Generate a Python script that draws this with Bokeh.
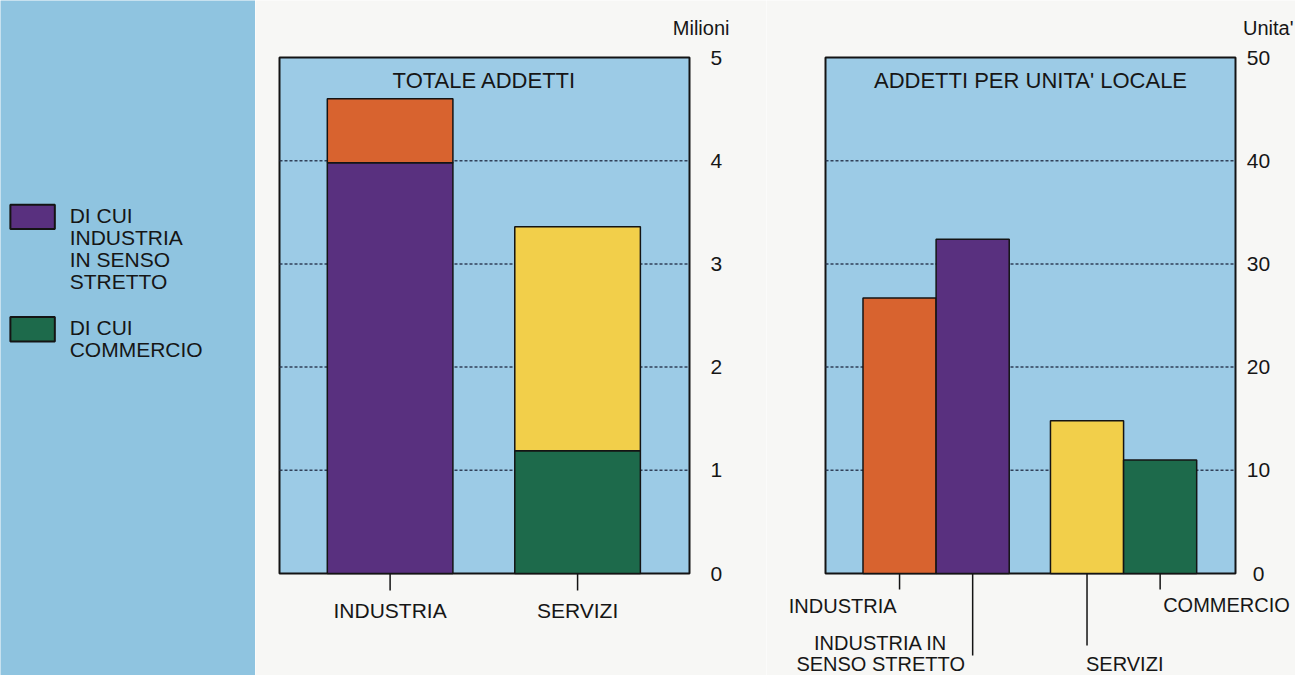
from bokeh.plotting import figure
from bokeh.models import Range1d, BoxAnnotation, ColumnDataSource
from bokeh.layouts import row
from bokeh.embed import file_html
from bokeh.resources import INLINE
from bokeh.core.properties import value

# ---------------- data ----------------
left_categories = ["INDUSTRIA", "SERVIZI"]
left_totals = [4.6, 3.36]          # totale addetti (milioni)
left_di_cui = [3.98, 1.19]         # di cui industria in senso stretto / di cui commercio
left_ticks = [0, 1, 2, 3, 4, 5]
left_unit = "Milioni"
left_title = "TOTALE ADDETTI"

right_labels = ["INDUSTRIA", "INDUSTRIA IN\nSENSO STRETTO", "SERVIZI", "COMMERCIO"]
right_group_index = [0, 0, 1, 1]
right_side = [-1, 1, -1, 1]
right_values = [26.7, 32.4, 14.8, 11.0]   # addetti per unita' locale
right_ticks = [0, 10, 20, 30, 40, 50]
right_unit = "Unita'"
right_title = "ADDETTI PER UNITA' LOCALE"

legend_labels = ["DI CUI\nINDUSTRIA\nIN SENSO\nSTRETTO", "DI CUI\nCOMMERCIO"]

# ---------------- style ----------------
FONT = "Liberation Sans"
ORANGE = "#d8632f"
PURPLE = "#59307f"
YELLOW = "#f2cf4a"
GREEN = "#1d6a4b"
PANEL = "#9ccbe6"
SIDE = "#8fc4e0"
PAPER = "#f7f7f5"
EDGE = "#141414"
TXT = "#161616"
GRID = "#26324a"

W, H = 1295, 675
SX, SY = W / 1311, H / 691          # reference pixel -> page pixel

X0, X1 = -0.59, 1.597               # category-index extent of each panel
PANEL_TOP = round(58 * SY)
PANEL_BOT = round(587 * SY)
PANEL_H = PANEL_BOT - PANEL_TOP
PANEL_W = 410
PX = PANEL_W / (X1 - X0)            # pixels per category unit


def chart(width, panel_left, ymax):
    """Figure whose frame is the whole canvas; panel drawn as a box in data space."""
    py = PANEL_H / ymax
    right_pad = width - panel_left - PANEL_W
    p = figure(width=width, height=H,
               x_range=Range1d(X0 - panel_left / PX, X1 + right_pad / PX),
               y_range=Range1d(-(H - PANEL_BOT) / py, ymax + PANEL_TOP / py),
               x_axis_location=None, y_axis_location=None, toolbar_location=None,
               output_backend="svg", title=None, min_border=0,
               min_border_left=0, min_border_right=0, min_border_top=0, min_border_bottom=0)
    p.background_fill_color = PAPER
    p.border_fill_color = PAPER
    p.outline_line_color = None
    p.grid.visible = False
    p.add_layout(BoxAnnotation(left=X0, right=X1, bottom=0, top=ymax, level="underlay",
                               fill_color=PANEL, fill_alpha=1.0,
                               line_color=EDGE, line_width=2, line_alpha=1.0))
    return p, py


def grid_and_ticks(p, ticks, dx, align):
    inner = ticks[1:-1]
    p.segment(x0=[X0] * len(inner), x1=[X1] * len(inner), y0=inner, y1=inner,
              line_color=GRID, line_width=1.5, line_dash="3 2", line_alpha=0.9)
    p.text(x=[X1 + dx / PX] * len(ticks), y=ticks, text=[str(t) for t in ticks],
           text_font=value(FONT), text_font_size=value("21px"), text_color=TXT,
           text_align=align, text_baseline="middle")


def title(p, text, ymax, py):
    p.text(x=[(X0 + X1) / 2], y=[ymax - 23 / py], text=[text],
           text_font=value(FONT), text_font_size=value("22px"), text_color=TXT,
           text_align="center", text_baseline="middle")


def unit_header(p, text, ymax, py, right_local_px, panel_left):
    p.text(x=[X0 + (right_local_px - panel_left) / PX], y=[ymax + 30 / py], text=[text],
           text_font=value(FONT), text_font_size=value("20px"), text_color=TXT,
           text_align="right", text_baseline="middle")


# ---------------- legend side panel ----------------
W0 = round(258 * SX)
p0 = figure(width=W0, height=H, x_range=Range1d(0, W0), y_range=Range1d(H, 0),
            x_axis_location=None, y_axis_location=None, toolbar_location=None,
            output_backend="svg", title=None, min_border=0,
            min_border_left=0, min_border_right=0, min_border_top=0, min_border_bottom=0)
p0.background_fill_color = SIDE
p0.border_fill_color = SIDE
p0.outline_line_color = None
p0.grid.visible = False

legend_colors = [PURPLE, GREEN]
legend_tops = [209, 324]            # reference px
sw_l, sw_r, sw_h, gap = 10, 55, 25, 22.7
p0.quad(left=[sw_l * SX] * 2, right=[sw_r * SX] * 2,
        top=[t * SY for t in legend_tops], bottom=[(t + sw_h) * SY for t in legend_tops],
        fill_color=legend_colors, line_color=EDGE, line_width=2)
tx, ty, tt = [], [], []
for top, lab in zip(legend_tops, legend_labels):
    for k, line in enumerate(lab.split("\n")):
        tx.append(70 * SX)
        ty.append((top + 11 + k * gap) * SY)
        tt.append(line)
p0.text(x=tx, y=ty, text=tt, text_font=value(FONT), text_font_size=value("21px"),
        text_baseline="middle", text_align="left", text_color=TXT)

# ---------------- left chart: totale addetti ----------------
W1 = round(775 * SX) - W0
L1 = round(282 * SX) - W0
p1, py1 = chart(W1, L1, left_ticks[-1])
grid_and_ticks(p1, left_ticks, 21, "left")
title(p1, left_title, left_ticks[-1], py1)
unit_header(p1, left_unit, left_ticks[-1], py1, 738 * SX - W0, L1)

xi = list(range(len(left_categories)))
src1 = ColumnDataSource(dict(x=xi, total=left_totals, sub=left_di_cui,
                             top_col=[ORANGE, YELLOW], sub_col=[PURPLE, GREEN]))
p1.vbar(x="x", bottom=0, top="sub", width=0.67, fill_color="sub_col",
        line_color=EDGE, line_width=1.5, source=src1)
p1.vbar(x="x", bottom="sub", top="total", width=0.67, fill_color="top_col",
        line_color=EDGE, line_width=1.5, source=src1)
p1.segment(x0=xi, x1=xi, y0=[0] * len(xi), y1=[-17 / py1] * len(xi),
           line_color=EDGE, line_width=1.5)
p1.text(x=xi, y=[-37 / py1] * len(xi), text=left_categories, text_font=value(FONT),
        text_font_size=value("21px"), text_color=TXT, text_align="center",
        text_baseline="middle")

# ---------------- right chart: addetti per unita' locale ----------------
W2 = W - W0 - W1
L2 = round(835 * SX) - W0 - W1
p2, py2 = chart(W2, L2, right_ticks[-1])
grid_and_ticks(p2, right_ticks, 23, "center")
title(p2, right_title, right_ticks[-1], py2)
unit_header(p2, right_unit, right_ticks[-1], py2, W2 - 2, L2)

half = 0.195
rx = [g + s * half for g, s in zip(right_group_index, right_side)]
src2 = ColumnDataSource(dict(x=rx, top=right_values, col=[ORANGE, PURPLE, YELLOW, GREEN]))
p2.vbar(x="x", bottom=0, top="top", width=2 * half, fill_color="col",
        line_color=EDGE, line_width=1.5, source=src2)

# leader lines and staggered labels (pixel offsets below the panel)
leader_len = [16, 82, 72, 16]
label_dx = [-3, -92, -1, 3]
label_align = ["right", "center", "left", "left"]
label_dy = [32, 69, 90, 31]
lx, ly, lt, la = [], [], [], []
for x, lab, dx, al, dy in zip(rx, right_labels, label_dx, label_align, label_dy):
    for k, line in enumerate(lab.split("\n")):
        lx.append(x + dx / PX)
        ly.append(-(dy + k * 21) / py2)
        lt.append(line)
        la.append(al)
p2.segment(x0=rx, x1=rx, y0=[0] * len(rx), y1=[-l / py2 for l in leader_len],
           line_color=EDGE, line_width=1.5)
p2.text(x="x", y="y", text="t", text_align="a",
        source=ColumnDataSource(dict(x=lx, y=ly, t=lt, a=la)),
        text_font=value(FONT), text_font_size=value("20px"), text_color=TXT,
        text_baseline="middle")

layout = row(p0, p1, p2)
open("out.html", "w").write(file_html(layout, INLINE))
